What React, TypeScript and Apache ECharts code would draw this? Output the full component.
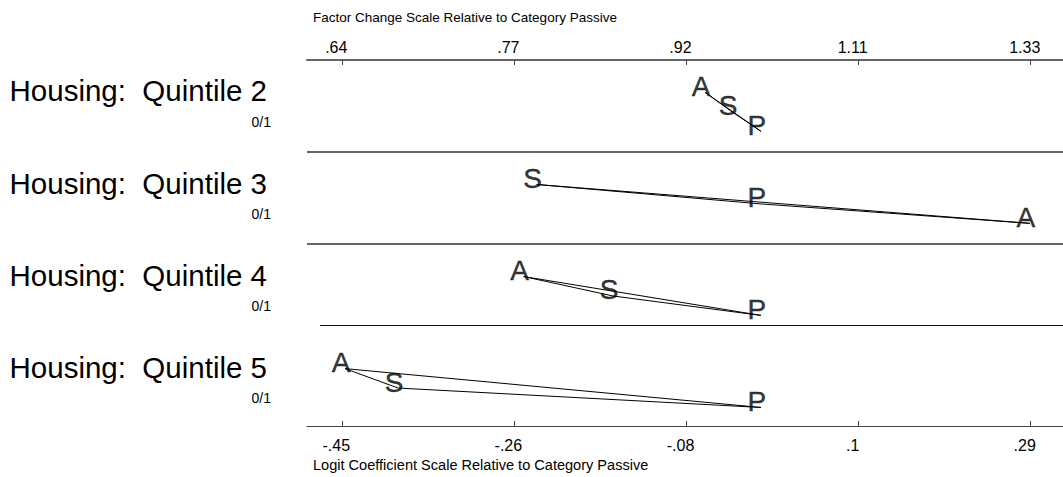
import React, { useEffect, useRef } from 'react';
import * as echarts from 'echarts';

// ---- data ----
const variables = ['Housing:  Quintile 2', 'Housing:  Quintile 3', 'Housing:  Quintile 4', 'Housing:  Quintile 5'];
const rangeNote = '0/1';
const outcomeCodes = ['A', 'S', 'P'];
const logitA = [-0.06, 0.289, -0.255, -0.447];
const logitS = [-0.031, -0.241, -0.159, -0.39];
const logitP = [0, 0, 0, 0];
const logitTicks = [-0.45, -0.265, -0.08, 0.105, 0.29];
const logitTickLabels = ['-.45', '-.26', '-.08', '.1', '.29'];
const factorTickLabels = ['.64', '.77', '.92', '1.11', '1.33'];
const topTitle = 'Factor Change Scale Relative to Category Passive';
const bottomTitle = 'Logit Coefficient Scale Relative to Category Passive';

// ---- layout ----
const X_MIN = -0.4879;
const X_MAX = 0.3247;
const Y_MIN = -0.5633;
const Y_MAX = 3.4124;
const ROW_STEP = 0.211;
const separatorY = [0.4306, 1.4354, 2.3153];
const separatorStart = [X_MIN, X_MIN, -0.474];
const FONT = 'Arial, "Liberation Sans", Helvetica, sans-serif';

function tickLabel(labels: string[]) {
  return (v: number) => {
    const i = logitTicks.findIndex((t) => Math.abs(t - v) < 1e-6);
    return i >= 0 ? labels[i] : '';
  };
}

export default function App() {
  const ref = useRef<HTMLDivElement>(null);
  useEffect(() => {
    const el = ref.current!;
    const chart = echarts.init(el, null, { renderer: 'svg' });

    const lineSeries: any[] = [];
    const letterData: any[] = [];
    variables.forEach((_, i) => {
      const vals = [logitA[i], logitS[i], logitP[i]];
      const order = vals.map((v, k) => k).sort((a, b) => vals[a] - vals[b]);
      const rank: number[] = [];
      order.forEach((k, r) => (rank[k] = r));
      const pts = vals.map((v, k) => [v, i + (rank[k] - 1) * ROW_STEP]);
      lineSeries.push({
        type: 'line',
        data: [pts[0], pts[1], pts[2], pts[0]],
        symbol: 'none',
        silent: true,
        lineStyle: { color: '#000', width: 1 },
        z: 2,
      });
      pts.forEach((p, k) => letterData.push({ value: p, name: outcomeCodes[k] }));
    });

    const axisCommon = {
      type: 'value',
      min: X_MIN,
      max: X_MAX,
      splitLine: { show: false },
    };

    chart.setOption({
      animation: false,
      backgroundColor: '#fff',
      grid: { left: 307, right: 0, top: 60, bottom: 51, containLabel: false },
      xAxis: [
        {
          ...axisCommon,
          position: 'bottom',
          axisLine: { show: true, onZero: false, lineStyle: { color: '#444', width: 1.2 } },
          axisTick: { show: true, inside: true, length: 5, customValues: logitTicks, lineStyle: { color: '#444' } },
          axisLabel: { customValues: logitTicks, formatter: tickLabel(logitTickLabels), fontSize: 16, color: '#000', margin: 11, padding: [0, 12, 0, 0], fontFamily: FONT },
        },
        {
          ...axisCommon,
          position: 'top',
          axisLine: { show: true, onZero: false, lineStyle: { color: '#666', width: 2 } },
          axisTick: { show: true, inside: true, length: 5, customValues: logitTicks, lineStyle: { color: '#444' } },
          axisLabel: { customValues: logitTicks, formatter: tickLabel(factorTickLabels), fontSize: 16, color: '#000', margin: 5, padding: [0, 12, 0, 0], fontFamily: FONT },
        },
      ],
      yAxis: { type: 'value', min: Y_MIN, max: Y_MAX, inverse: true, show: false },
      series: [
        ...lineSeries,
        {
          type: 'scatter',
          data: letterData,
          symbolSize: 1,
          itemStyle: { color: 'rgba(0,0,0,0)' },
          silent: true,
          z: 3,
          label: {
            show: true,
            position: 'inside',
            formatter: '{b}',
            offset: [-4, -6],
            fontSize: 28,
            color: '#000',
            textBorderColor: '#000',
            textBorderWidth: 0.4,
            fontFamily: FONT,
          },
        },
        {
          type: 'line',
          data: [],
          silent: true,
          markLine: {
            silent: true,
            symbol: 'none',
            label: { show: false },
            lineStyle: { type: 'solid' },
            data: separatorY.map((y, k) => [
              { coord: [separatorStart[k], y], lineStyle: { color: k < 2 ? '#666' : '#111', width: k < 2 ? 2 : 1.2 } },
              { coord: [X_MAX, y] },
            ]),
          },
        },
      ],
    });

    const gfx: any[] = [];
    variables.forEach((name, i) => {
      const yName = chart.convertToPixel({ yAxisIndex: 0 } as any, i - 0.227) as number;
      const yNote = chart.convertToPixel({ yAxisIndex: 0 } as any, i + 0.11) as number;
      gfx.push({
        type: 'text',
        x: 267,
        y: yName,
        style: { text: name, fill: '#000', font: `29.5px ${FONT}`, textAlign: 'right', align: 'right', textVerticalAlign: 'middle', verticalAlign: 'middle' },
      });
      gfx.push({
        type: 'text',
        x: 271,
        y: yNote,
        style: { text: rangeNote, fill: '#000', font: `14px ${FONT}`, textAlign: 'right', align: 'right', textVerticalAlign: 'middle', verticalAlign: 'middle' },
      });
    });
    gfx.push({
      type: 'text',
      x: 313,
      y: 17,
      style: { text: topTitle, fill: '#000', font: `13.5px ${FONT}`, textAlign: 'left', align: 'left', textVerticalAlign: 'middle', verticalAlign: 'middle' },
    });
    gfx.push({
      type: 'text',
      x: 313,
      y: 465,
      style: { text: bottomTitle, fill: '#000', font: `14.55px ${FONT}`, textAlign: 'left', align: 'left', textVerticalAlign: 'middle', verticalAlign: 'middle' },
    });
    chart.setOption({ graphic: gfx });

    return () => chart.dispose();
  }, []);
  return <div ref={ref} style={{ position: 'absolute', left: 0, top: 0, width: 1063, height: 477 }} />;
}
